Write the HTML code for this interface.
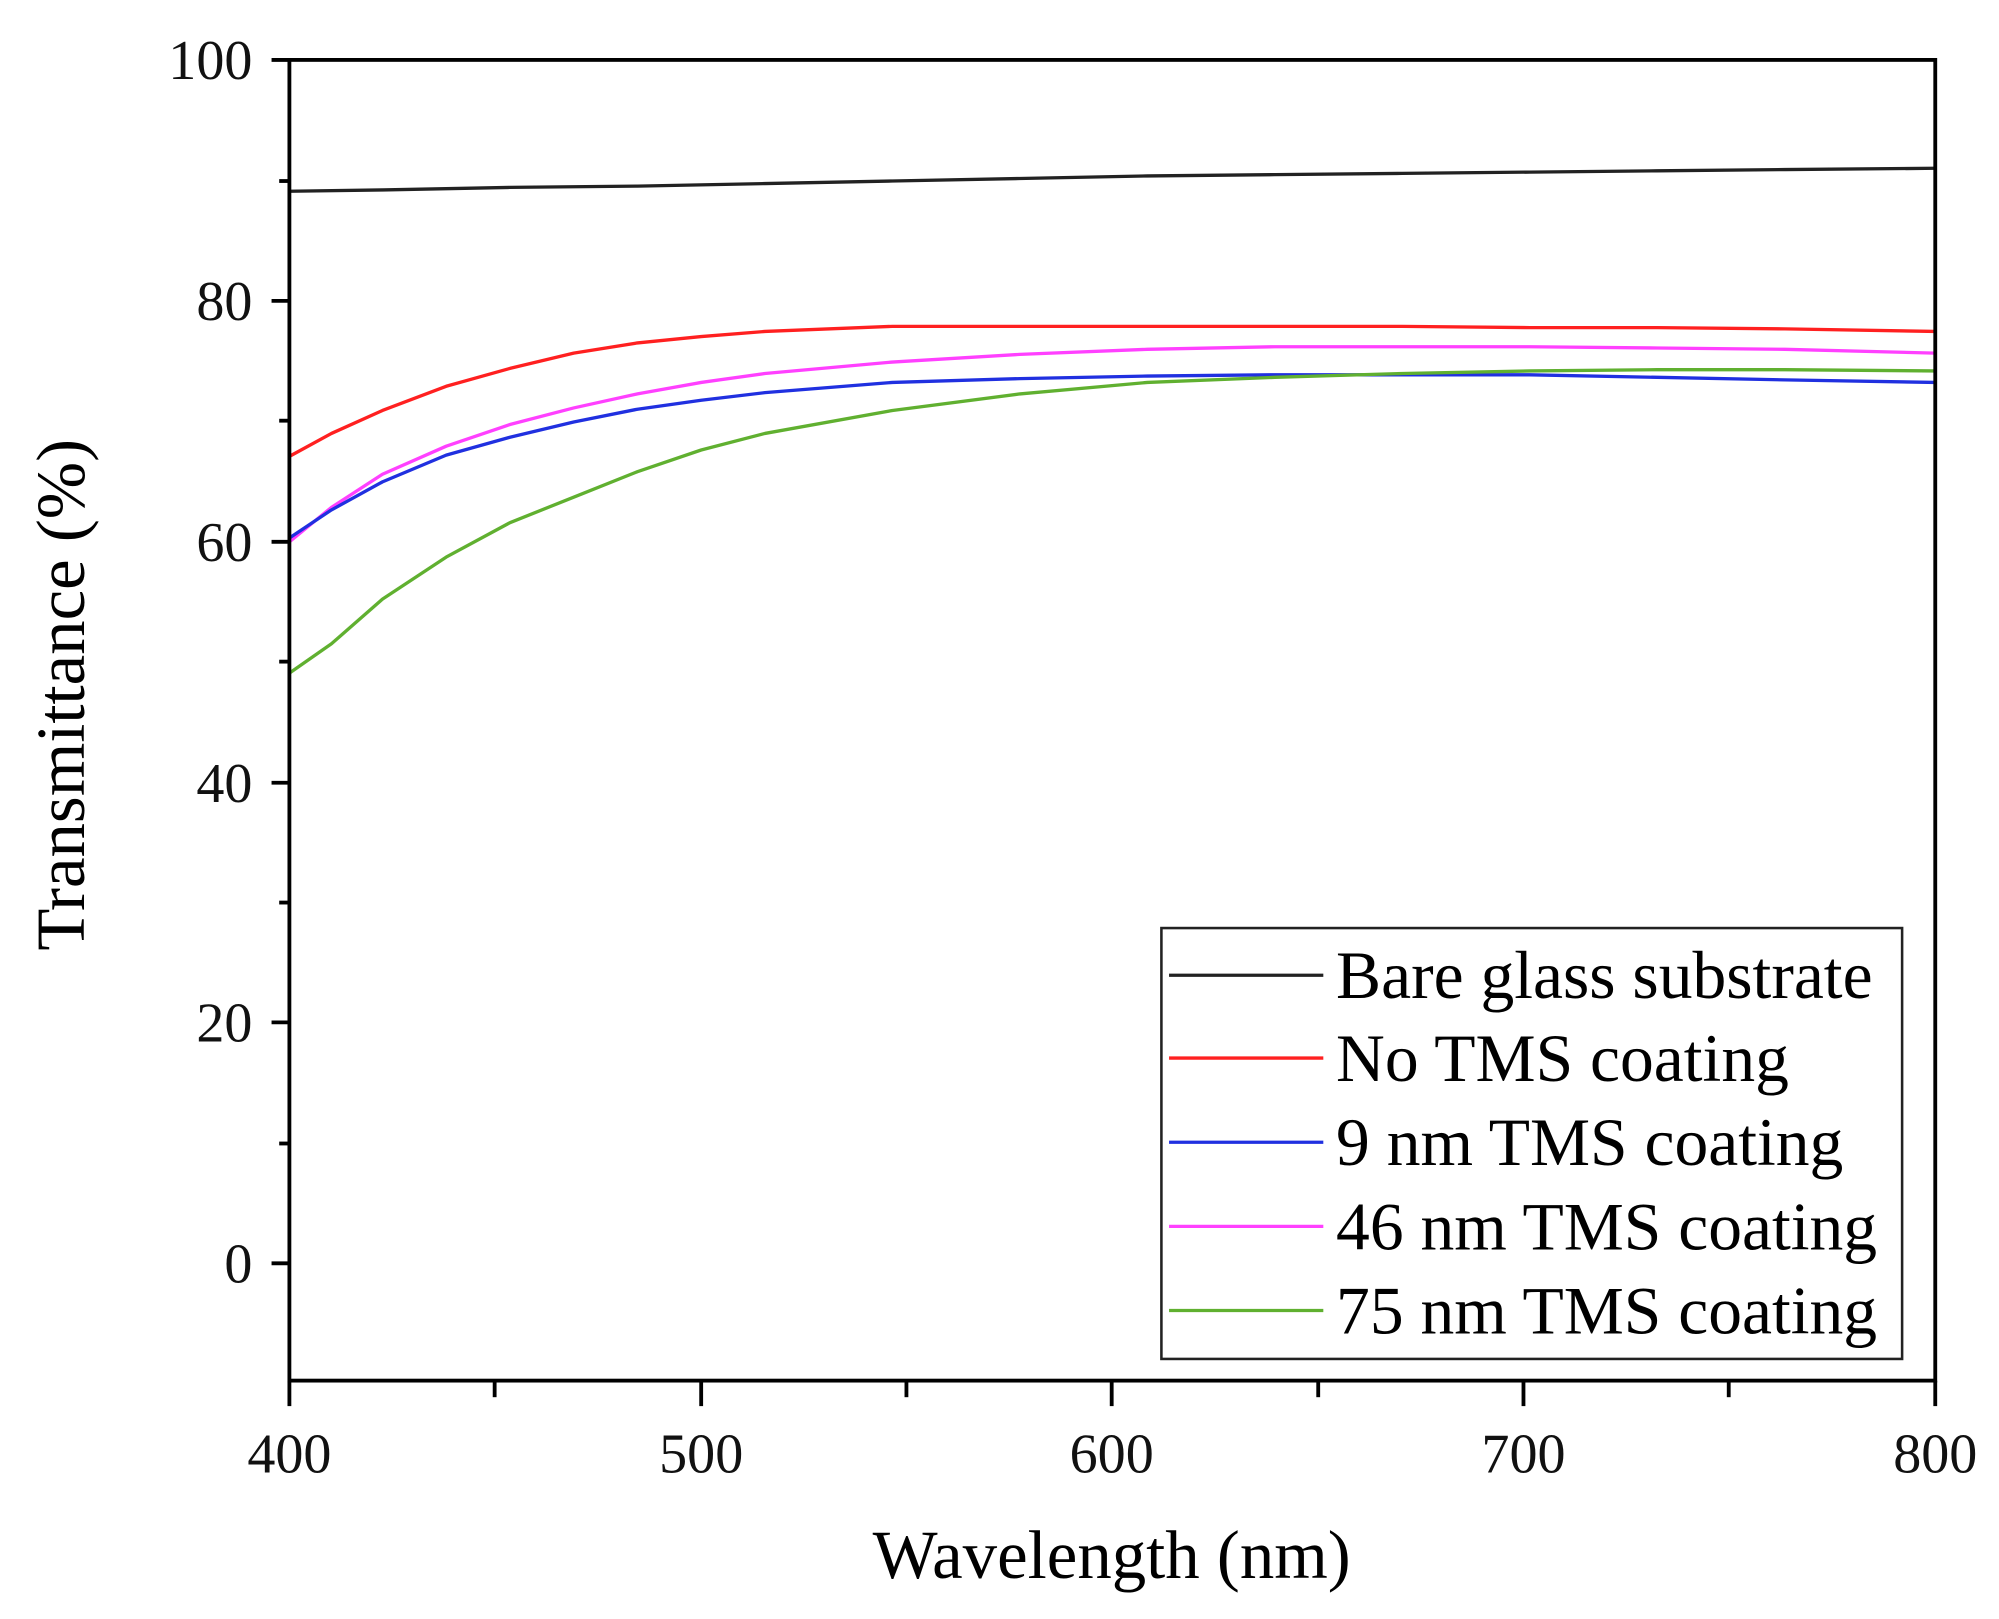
<!DOCTYPE html>
<html><head><meta charset="utf-8"><style>html,body{margin:0;padding:0;background:#fff}svg{display:block}</style></head>
<body>
<svg width="1999" height="1619" viewBox="0 0 1568 1270" preserveAspectRatio="none" xmlns="http://www.w3.org/2000/svg" font-family="'Liberation Serif', serif">
<rect width="1568" height="1270" fill="#fff"/>
<g fill="none" stroke-linejoin="round" stroke-width="2.6">
<polyline stroke="#222" points="227,150 300,149 400,147 500,146 600,144 700,142 800,140 900,138 1000,137 1100,136 1200,135 1300,134 1400,133 1518,132"/>
<polyline stroke="#ff2020" points="227,358 260,340 300,322 350,303 400,289 450,277 500,269 550,264 600,260 700,256 800,256 900,256 1000,256 1100,256 1200,257 1300,257 1400,258 1518,260"/>
<polyline stroke="#ff40ff" points="227,425 260,398 300,372 350,350 400,333 450,320 500,309 550,300 600,293 700,284 800,278 900,274 1000,272 1100,272 1200,272 1300,273 1400,274 1518,277"/>
<polyline stroke="#2030e0" points="227,422 260,400 300,378 350,357 400,343 450,331 500,321 550,314 600,308 700,300 800,297 900,295 1000,294 1100,294 1200,294 1300,296 1400,298 1518,300"/>
<polyline stroke="#60b030" points="227,528 260,505 300,470 350,437 400,410 450,390 500,370 550,353 600,340 700,322 800,309 900,300 1000,296 1100,293 1200,291 1300,290 1400,290 1518,291"/>
</g>
<rect x="227" y="47" width="1291" height="1036" fill="none" stroke="#000" stroke-width="3"/>
<g stroke="#000" stroke-width="3">
<line x1="213" y1="47" x2="227" y2="47"/><line x1="213" y1="236" x2="227" y2="236"/><line x1="213" y1="425" x2="227" y2="425"/><line x1="213" y1="614" x2="227" y2="614"/><line x1="213" y1="802" x2="227" y2="802"/><line x1="213" y1="991" x2="227" y2="991"/>
<line x1="219" y1="142" x2="227" y2="142"/><line x1="219" y1="330" x2="227" y2="330"/><line x1="219" y1="519" x2="227" y2="519"/><line x1="219" y1="708" x2="227" y2="708"/><line x1="219" y1="897" x2="227" y2="897"/>
<line x1="227" y1="1083" x2="227" y2="1103"/><line x1="550" y1="1083" x2="550" y2="1103"/><line x1="872" y1="1083" x2="872" y2="1103"/><line x1="1195" y1="1083" x2="1195" y2="1103"/><line x1="1518" y1="1083" x2="1518" y2="1103"/>
<line x1="388" y1="1083" x2="388" y2="1096"/><line x1="711" y1="1083" x2="711" y2="1096"/><line x1="1034" y1="1083" x2="1034" y2="1096"/><line x1="1356" y1="1083" x2="1356" y2="1096"/>
</g>
<g font-size="44" text-anchor="end" fill="#111">
<text x="198" y="62">100</text><text x="198" y="251">80</text><text x="198" y="440">60</text><text x="198" y="629">40</text><text x="198" y="817">20</text><text x="198" y="1006">0</text>
</g>
<g font-size="44" text-anchor="middle" fill="#111">
<text x="227" y="1155">400</text><text x="550" y="1155">500</text><text x="872" y="1155">600</text><text x="1195" y="1155">700</text><text x="1518" y="1155">800</text>
</g>
<text x="872" y="1238" font-size="54" text-anchor="middle">Wavelength (nm)</text>
<text transform="translate(66,545) rotate(-90)" font-size="54" text-anchor="middle">Transmittance (%)</text>
<rect x="911" y="728" width="581" height="338" fill="#fff" stroke="#222" stroke-width="2"/>
<g stroke-width="2.6">
<line x1="917" y1="765" x2="1038" y2="765" stroke="#222"/>
<line x1="917" y1="830" x2="1038" y2="830" stroke="#ff2020"/>
<line x1="917" y1="896" x2="1038" y2="896" stroke="#2030e0"/>
<line x1="917" y1="962" x2="1038" y2="962" stroke="#ff40ff"/>
<line x1="917" y1="1028" x2="1038" y2="1028" stroke="#60b030"/>
</g>
<g font-size="53" fill="#000">
<text x="1048" y="783">Bare glass substrate</text>
<text x="1048" y="848">No TMS coating</text>
<text x="1048" y="914">9 nm TMS coating</text>
<text x="1048" y="980">46 nm TMS coating</text>
<text x="1048" y="1046">75 nm TMS coating</text>
</g>
</svg>
</body></html>
